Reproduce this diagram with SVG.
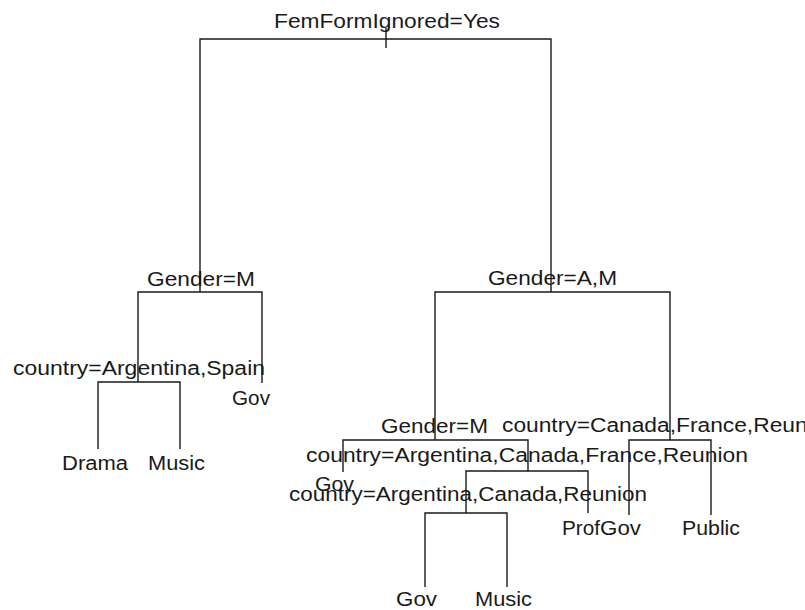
<svg xmlns="http://www.w3.org/2000/svg" width="805" height="610" viewBox="0 0 805 610">
<style>
.bg{fill:#fff}
.e{fill:none;stroke:#1a1a1a;stroke-width:1.4;stroke-linecap:butt}
text{font-family:"Liberation Sans",Arial,sans-serif;font-size:20px;fill:#1a1a1a}
</style>
<rect class="bg" x="0" y="0" width="805" height="610"/>
<g id="connectors">
<path class="e" d="M386 28V48M200 292V39H551V292"/>
<path class="e" d="M138 382V292H262V383"/>
<path class="e" d="M98 449V382H180V449"/>
<path class="e" d="M435 440V292H670V440"/>
<path class="e" d="M343 472V440H528V471"/>
<path class="e" d="M466 513V471H588V513"/>
<path class="e" d="M425 587V513H507V587"/>
<path class="e" d="M629 515V440H711V515"/>
</g>
<g id="n1"><text x="274" y="28" textLength="226" lengthAdjust="spacingAndGlyphs">FemFormIgnored=Yes</text></g>
<g id="n2"><text x="147" y="286" textLength="108" lengthAdjust="spacingAndGlyphs">Gender=M</text></g>
<g id="n3"><text x="488" y="285" textLength="129" lengthAdjust="spacingAndGlyphs">Gender=A,M</text></g>
<g id="n4"><text x="13" y="375" textLength="252" lengthAdjust="spacingAndGlyphs">country=Argentina,Spain</text></g>
<g id="n5"><text x="232" y="405" textLength="38" lengthAdjust="spacingAndGlyphs">Gov</text></g>
<g id="n8"><text x="62" y="470" textLength="66" lengthAdjust="spacingAndGlyphs">Drama</text></g>
<g id="n9"><text x="148" y="470" textLength="57" lengthAdjust="spacingAndGlyphs">Music</text></g>
<g id="n6"><text x="381" y="433" textLength="107" lengthAdjust="spacingAndGlyphs">Gender=M</text></g>
<g id="n7"><text x="502" y="432" textLength="336" lengthAdjust="spacingAndGlyphs">country=Canada,France,Reunion</text></g>
<g id="n13"><text x="306" y="462" textLength="442" lengthAdjust="spacingAndGlyphs">country=Argentina,Canada,France,Reunion</text></g>
<g id="n12"><text x="315" y="491" textLength="39" lengthAdjust="spacingAndGlyphs">Gov</text></g>
<g id="n26"><text x="289" y="501" textLength="358" lengthAdjust="spacingAndGlyphs">country=Argentina,Canada,Reunion</text></g>
<g id="n27"><text x="562" y="535" textLength="38" lengthAdjust="spacingAndGlyphs">Prof</text></g>
<g id="n14"><text x="600" y="535" textLength="41" lengthAdjust="spacingAndGlyphs">Gov</text></g>
<g id="n15"><text x="682" y="535" textLength="58" lengthAdjust="spacingAndGlyphs">Public</text></g>
<g id="n52"><text x="396" y="606" textLength="41" lengthAdjust="spacingAndGlyphs">Gov</text></g>
<g id="n53"><text x="475" y="606" textLength="57" lengthAdjust="spacingAndGlyphs">Music</text></g>
</svg>
